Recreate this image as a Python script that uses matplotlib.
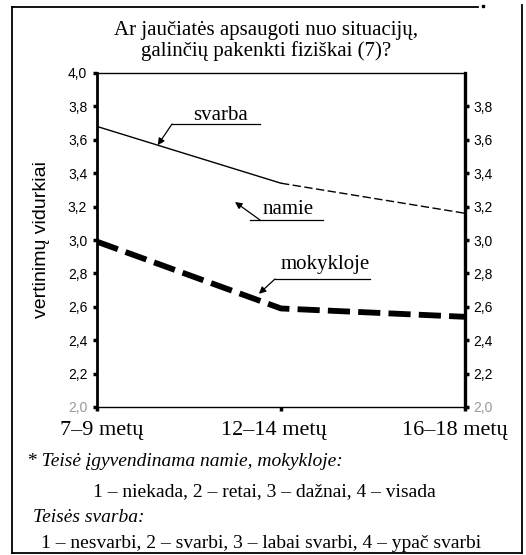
import matplotlib.pyplot as plt
from matplotlib.lines import Line2D
import numpy as np

W, H = 526, 555

# duomenys
groups = ['7–9 metų', '12–14 metų', '16–18 metų']
svarba = [3.68, 3.34, 3.16]
mokykloje = [2.99, 2.59, 2.54]
yticks_left = [2.0, 2.2, 2.4, 2.6, 2.8, 3.0, 3.2, 3.4, 3.6, 3.8, 4.0]
yticks_right = [2.0, 2.2, 2.4, 2.6, 2.8, 3.0, 3.2, 3.4, 3.6, 3.8]

serif = 'Liberation Serif'
sans = 'Liberation Sans'


def fx(px):
    return px / W


def fy(py):
    return 1 - py / H


def fmt(v):
    return f'{v:.1f}'.replace('.', ',')


fig = plt.figure(figsize=(W / 100, H / 100), dpi=100)
ax = fig.add_axes([fx(97), fy(407), 368 / W, 334 / H])

x = np.arange(len(groups))
ax.plot(x[:2], svarba[:2], color='black', lw=1.0)
ax.plot(x[1:], svarba[1:], color='black', lw=1.0, dashes=(6, 2.5))
ax.plot(x, mokykloje, color='black', lw=4.2, dashes=(3.8, 1.4),
        solid_capstyle='butt')

ax.set_xlim(0, 2)
ax.set_ylim(2, 4)
ax.set_xticks(x)
ax.set_xticklabels([])
ax.set_yticks(yticks_left)
ax.set_yticklabels([fmt(v) for v in yticks_left], fontfamily=sans, fontsize=10)
ax.tick_params(axis='y', direction='out', length=3, width=2.5, pad=4)
ax.tick_params(axis='x', direction='out', length=3, width=2.5)
ax.get_yticklabels()[0].set_color('#999999')

# grupių pavadinimai po ašimi
label_px = [102, 274, 455]
for lab, px in zip(groups, label_px):
    fig.text(fx(px), fy(430), lab, ha='center', va='center',
             fontfamily=serif, fontsize=16)

for s in ['top', 'bottom']:
    ax.spines[s].set_linewidth(1.0)
ax.spines['left'].set_linewidth(2.0)
ax.spines['right'].set_linewidth(2.4)

ax2 = ax.twinx()
ax2.set_ylim(2, 4)
ax2.set_yticks(yticks_right)
ax2.set_yticklabels([fmt(v) for v in yticks_right], fontfamily=sans, fontsize=10)
ax2.tick_params(axis='y', direction='out', length=3, width=2.5, pad=3)
ax2.get_yticklabels()[0].set_color('#999999')
for s in ax2.spines.values():
    s.set_visible(False)

ax.set_ylabel('vertinimų vidurkiai', fontfamily=sans, fontsize=14)
ax.yaxis.set_label_coords(-(47 / 368), 0.5)

# užrašai su rodyklėmis
arrow = dict(arrowstyle='-|>', color='black', lw=0.9, mutation_scale=10,
             shrinkA=0, shrinkB=0)
sx = 0.33
ax.annotate('', xy=(sx, np.interp(sx, x, svarba)), xycoords='data',
            xytext=(fx(172), fy(124)), textcoords='figure fraction',
            arrowprops=arrow)
fig.add_artist(Line2D([fx(172), fx(260)], [fy(124), fy(124)], color='black', lw=0.9))
fig.text(fx(221), fy(116), 'svarba', ha='center', va='center',
         fontfamily=serif, fontsize=15)

ax.annotate('', xy=(fx(235), fy(202)), xycoords='figure fraction',
            xytext=(fx(260), fy(220)), textcoords='figure fraction',
            arrowprops=arrow)
fig.add_artist(Line2D([fx(250), fx(323)], [fy(220), fy(220)], color='black', lw=0.9))
fig.text(fx(288), fy(210), 'namie', ha='center', va='center',
         fontfamily=serif, fontsize=15)

mx = 0.88
ax.annotate('', xy=(mx, np.interp(mx, x, mokykloje) + 0.04), xycoords='data',
            xytext=(fx(275), fy(279)), textcoords='figure fraction',
            arrowprops=arrow)
fig.add_artist(Line2D([fx(275), fx(370)], [fy(279), fy(279)], color='black', lw=0.9))
fig.text(fx(325), fy(265), 'mokykloje', ha='center', va='center',
         fontfamily=serif, fontsize=15)

# antraštė
fig.text(fx(266), fy(30), 'Ar jaučiatės apsaugoti nuo situacijų,', ha='center',
         va='center', fontfamily=serif, fontsize=15)
fig.text(fx(266), fy(51), 'galinčių pakenkti fiziškai (7)?', ha='center',
         va='center', fontfamily=serif, fontsize=15)

# paaiškinimai
fig.text(fx(27), fy(462), '* Teisė įgyvendinama namie, mokykloje:', ha='left',
         va='center', fontfamily=serif, fontsize=14, style='italic')
fig.text(fx(264), fy(492), '1 – niekada, 2 – retai, 3 – dažnai, 4 – visada',
         ha='center', va='center', fontfamily=serif, fontsize=14)
fig.text(fx(33), fy(518), 'Teisės svarba:', ha='left', va='center',
         fontfamily=serif, fontsize=14, style='italic')
fig.text(fx(261), fy(543), '1 – nesvarbi, 2 – svarbi, 3 – labai svarbi, 4 – ypač svarbi',
         ha='center', va='center', fontfamily=serif, fontsize=14)

# rėmelis
frame = dict(color='black', lw=1.3)
fig.add_artist(Line2D([fx(12), fx(12)], [fy(7), fy(553)], **frame))
fig.add_artist(Line2D([fx(12), fx(478)], [fy(7), fy(7)], **frame))
fig.add_artist(Line2D([fx(522), fx(522)], [fy(5), fy(553)], **frame))
fig.add_artist(Line2D([fx(12), fx(522)], [fy(553), fy(553)], **frame))
fig.add_artist(Line2D([fx(483)], [fy(6)], marker='s', markersize=1.5, color='black'))

fig.savefig('out.png', dpi=100)
